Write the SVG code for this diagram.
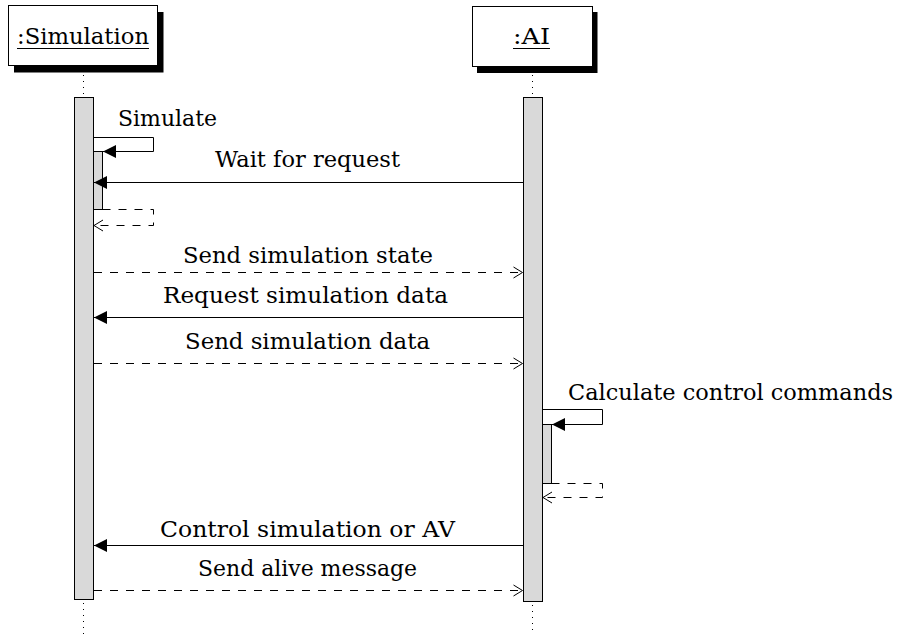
<svg xmlns="http://www.w3.org/2000/svg" width="898" height="635" viewBox="0 0 898 635">
  <style>
    text { font-family: 'DejaVu Serif', 'Liberation Serif', serif; font-size: 22px; fill: #000; }
    .box { fill: #fff; stroke: #000; stroke-width: 1; }
    .shadow { fill: #000; }
    .life { stroke: #000; stroke-width: 1; stroke-dasharray: 1 5; fill: none; }
    .act { fill: #d9d9d9; stroke: #000; stroke-width: 1; }
    .call { stroke: #000; stroke-width: 1; fill: none; marker-end: url(#filled); }
    .ret { stroke: #000; stroke-width: 1; fill: none; stroke-dasharray: 8 8; marker-end: url(#open); }
    .ul { stroke: #000; stroke-width: 1; }
  </style>
  <defs>
    <marker id="filled" markerUnits="userSpaceOnUse" markerWidth="14" markerHeight="14" viewBox="0 0 14 14" refX="13" refY="7" orient="auto">
      <path d="M0,0.5 L13,7 L0,13.5 z" fill="#000"/>
    </marker>
    <marker id="open" markerUnits="userSpaceOnUse" markerWidth="12" markerHeight="14" viewBox="0 0 12 14" refX="10" refY="7" orient="auto">
      <path d="M1,1.5 L10,7 L1,12.5" fill="none" stroke="#000" stroke-width="1"/>
    </marker>
  </defs>

  <!-- participant :Simulation -->
  <g id="simulation">
    <rect class="shadow" x="14" y="12" width="149.5" height="60.5"/>
    <rect class="box" x="8.5" y="5.5" width="149" height="60"/>
    <text x="17" y="44" textLength="132" lengthAdjust="spacingAndGlyphs">:Simulation</text>
    <line class="ul" x1="17" y1="48.5" x2="149" y2="48.5"/>
    <line class="life" x1="83.5" y1="75" x2="83.5" y2="97"/>
    <line class="life" x1="83.5" y1="603" x2="83.5" y2="634"/>
    <rect class="act" x="74.5" y="97.5" width="19" height="502"/>
    <rect class="act" x="93.5" y="151.5" width="9" height="58"/>
  </g>

  <!-- participant :AI -->
  <g id="ai">
    <rect class="shadow" x="477" y="12" width="120.5" height="61"/>
    <rect class="box" x="472.5" y="6.5" width="120" height="60"/>
    <text x="513" y="44" textLength="37" lengthAdjust="spacingAndGlyphs">:AI</text>
    <line class="ul" x1="513" y1="48.5" x2="550" y2="48.5"/>
    <line class="life" x1="532.5" y1="75" x2="532.5" y2="97"/>
    <line class="life" x1="532.5" y1="605" x2="532.5" y2="634"/>
    <rect class="act" x="523.5" y="97.5" width="19" height="504"/>
    <rect class="act" x="542.5" y="424.5" width="9" height="59"/>
  </g>

  <!-- messages -->
  <g id="connectors">
    <!-- Simulate (self call) -->
    <path class="call" d="M93.5,137.5 H153.5 V151.5 H103"/>
    <path class="ret" d="M102.5,209.5 H153.5 V225.5 H94"/>
    <!-- Wait for request -->
    <path class="call" d="M523,182.5 H94"/>
    <!-- Send simulation state -->
    <path class="ret" d="M94,272.5 H522.5"/>
    <!-- Request simulation data -->
    <path class="call" d="M523,317.5 H94"/>
    <!-- Send simulation data -->
    <path class="ret" d="M94,363.5 H522.5"/>
    <!-- Calculate control commands (self call) -->
    <path class="call" d="M542.5,409.5 H602.5 V424.5 H552"/>
    <path class="ret" d="M551.5,483.5 H602.5 V497.5 H543"/>
    <!-- Control simulation or AV -->
    <path class="call" d="M523,545.5 H94"/>
    <!-- Send alive message -->
    <path class="ret" d="M94,590.5 H522.5"/>
  </g>

  <!-- message labels -->
  <g id="labels">
    <text x="118" y="126" textLength="99" lengthAdjust="spacingAndGlyphs">Simulate</text>
    <text x="215" y="167" textLength="185" lengthAdjust="spacingAndGlyphs">Wait for request</text>
    <text x="183" y="263" textLength="250" lengthAdjust="spacingAndGlyphs">Send simulation state</text>
    <text x="163" y="303" textLength="285" lengthAdjust="spacingAndGlyphs">Request simulation data</text>
    <text x="185" y="349" textLength="245" lengthAdjust="spacingAndGlyphs">Send simulation data</text>
    <text x="568" y="400" textLength="325" lengthAdjust="spacingAndGlyphs">Calculate control commands</text>
    <text x="160" y="537" textLength="295" lengthAdjust="spacingAndGlyphs">Control simulation or AV</text>
    <text x="198" y="576" textLength="219" lengthAdjust="spacingAndGlyphs">Send alive message</text>
  </g>
</svg>
